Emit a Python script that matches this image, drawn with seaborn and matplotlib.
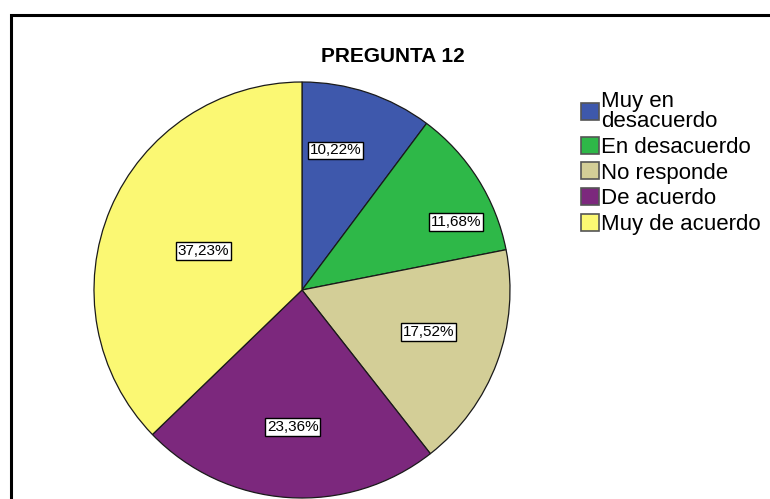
import numpy as np
import matplotlib
matplotlib.use("Agg")
import matplotlib.pyplot as plt
from matplotlib.patches import Rectangle
import seaborn as sns

# data
categories = ['Muy en\ndesacuerdo', 'En desacuerdo', 'No responde', 'De acuerdo', 'Muy de acuerdo']
percentages = [10.22, 11.68, 17.52, 23.36, 37.23]
colors = ['#3E58AC', '#2EB848', '#D3CE97', '#7C287D', '#FBF873']
title = 'PREGUNTA 12'

# label placement (radius fraction, angle nudge in degrees) - SPSS puts them a bit irregularly
label_dist = [0.69, 0.81, 0.64, 0.66, 0.51]
label_shift = [5, -8.5, 2, 0, 1.5]

sns.set_style("white")
plt.rcParams['font.family'] = ['Liberation Sans', 'DejaVu Sans']
plt.rcParams['text.color'] = 'black'

W, H = 770, 499
fig = plt.figure(figsize=(W / 100, H / 100), dpi=100)

# outer frame, runs off the right and bottom edges
fig.add_artist(Rectangle((10.5 / W, -0.05), 1.2, 1 - 14.5 / H + 0.05,
                         transform=fig.transFigure, fill=False,
                         edgecolor='black', linewidth=2.2, clip_on=False))

# pie axes: center (302, 290), radius 208 px
cx, cy, r = 302, 290, 208
ax = fig.add_axes([(cx - r) / W, (H - cy - r) / H, 2 * r / W, 2 * r / H])
wedges, _ = ax.pie(percentages, colors=sns.color_palette(colors), startangle=90,
                   counterclock=False, radius=1,
                   wedgeprops=dict(edgecolor='#1a1a1a', linewidth=0.9))
ax.set_xlim(-1, 1)
ax.set_ylim(-1, 1)
ax.set_aspect('equal')
ax.axis('off')

for w, pct, d, s in zip(wedges, percentages, label_dist, label_shift):
    ang = np.deg2rad((w.theta1 + w.theta2) / 2 + s)
    ax.text(d * np.cos(ang), d * np.sin(ang), f'{pct:.2f}%'.replace('.', ','),
            ha='center', va='center', fontsize=11,
            bbox=dict(boxstyle='square,pad=0.12', facecolor='white',
                      edgecolor='black', linewidth=1))

fig.text(393 / W, 1 - 57 / H, title, ha='center', va='center',
         fontsize=15, fontweight='bold')

leg = fig.legend(wedges, categories, loc='upper left',
                 bbox_to_anchor=(581 / W, 1 - 91 / H), frameon=False,
                 fontsize=16, handlelength=0.8, handleheight=0.8,
                 handletextpad=0.12, labelspacing=0.2, borderpad=0, borderaxespad=0)
for t in leg.get_texts():
    t.set_linespacing(0.95)
for h in leg.legend_handles:
    h.set_edgecolor('#555555')
    h.set_linewidth(1.2)

fig.savefig('out.png', dpi=100)
